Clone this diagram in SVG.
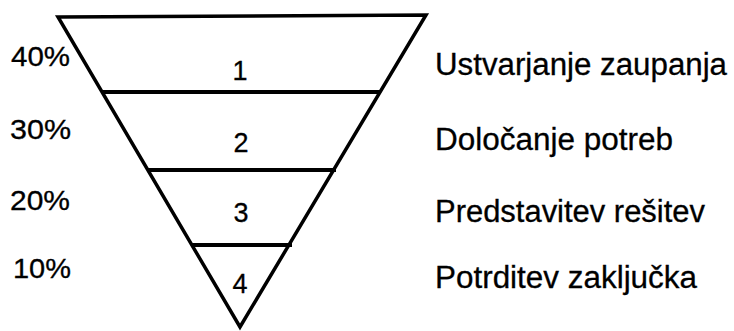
<svg xmlns="http://www.w3.org/2000/svg" width="734" height="331" viewBox="0 0 734 331">
<style>
.edge{stroke:#000;stroke-width:3.5;fill:none;stroke-linejoin:miter}
.div{stroke:#000;stroke-width:4;fill:none}
.pct{font-family:"Liberation Sans",Arial,sans-serif;font-size:27px;fill:#000;stroke:#000;stroke-width:0.3}
.num{font-family:"Liberation Sans",Arial,sans-serif;font-size:27px;fill:#000;text-anchor:middle;stroke:#000;stroke-width:0.3}
.lbl{font-family:"Liberation Sans",Arial,sans-serif;font-size:31px;fill:#000;stroke:#000;stroke-width:0.3}
</style>
<rect width="734" height="331" fill="#fff"/>
<g id="funnel">
<polygon class="edge" points="58,17 426,15 240,327"/>
</g>
<g id="connectors">
<line class="div" x1="102" y1="92" x2="381" y2="92"/>
<line class="div" x1="148" y1="170" x2="336" y2="170"/>
<line class="div" x1="191" y1="245" x2="292" y2="245"/>
</g>
<g id="stage1">
<text class="pct" x="11" y="66" textLength="59" lengthAdjust="spacingAndGlyphs">40%</text>
<text class="num" x="240" y="80">1</text>
<text class="lbl" x="435" y="75" textLength="292" lengthAdjust="spacingAndGlyphs">Ustvarjanje zaupanja</text>
</g>
<g id="stage2">
<text class="pct" x="10" y="139" textLength="61" lengthAdjust="spacingAndGlyphs">30%</text>
<text class="num" x="241" y="152">2</text>
<text class="lbl" x="435" y="150" textLength="238" lengthAdjust="spacingAndGlyphs">Določanje potreb</text>
</g>
<g id="stage3">
<text class="pct" x="10" y="210" textLength="60" lengthAdjust="spacingAndGlyphs">20%</text>
<text class="num" x="241" y="222">3</text>
<text class="lbl" x="435" y="222" textLength="270" lengthAdjust="spacingAndGlyphs">Predstavitev rešitev</text>
</g>
<g id="stage4">
<text class="pct" x="13" y="278" textLength="58" lengthAdjust="spacingAndGlyphs">10%</text>
<text class="num" x="240" y="293">4</text>
<text class="lbl" x="435" y="288" textLength="262" lengthAdjust="spacingAndGlyphs">Potrditev zaključka</text>
</g>
</svg>
